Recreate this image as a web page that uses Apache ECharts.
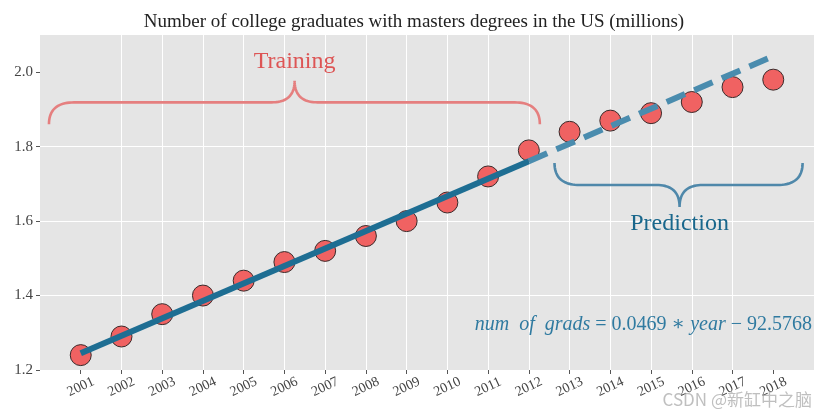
<!DOCTYPE html>
<html>
<head>
<meta charset="utf-8">
<script src="https://cdn.jsdelivr.net/npm/echarts@6/dist/echarts.min.js"></script>
<style>
html,body{margin:0;padding:0;background:#fff;}
#chart{width:828px;height:414px;}
</style>
</head>
<body>
<div id="chart"></div>
<script>
// ---- data ----
const years = [2001,2002,2003,2004,2005,2006,2007,2008,2009,2010,2011,2012,2013,2014,2015,2016,2017,2018];
const grads = [1.24,1.29,1.35,1.40,1.44,1.49,1.52,1.56,1.60,1.65,1.72,1.79,1.84,1.87,1.89,1.92,1.96,1.98];
const fitTrainX = [2001, 2012];
const fitTrainY = [1.245, 1.761];
const fitPredX = [2012, 2018];
const fitPredY = [1.761, 2.043];
// braces: [xStart, xEnd, xCenter, yEnds, yBar, yTip]
const trainingBrace = [2000.22, 2012.27, 2006.25, 1.860, 1.919, 1.977];
const predictionBrace = [2012.63, 2018.72, 2015.70, 1.756, 1.697, 1.638];
const yTicks = [1.2, 1.4, 1.6, 1.8, 2.0];
const titleText = 'Number of college graduates with masters degrees in the US (millions)';

// annotation anchor positions (data coords)
const trainingLabelPos = [2006.25, 2.027];
const predictionLabelPos = [2015.70, 1.594];
const equationPos = [2018.95, 1.321];

const SERIF = '"Liberation Serif","DejaVu Serif",serif';

const chart = echarts.init(document.getElementById('chart'), null, {renderer:'canvas'});

function qbez(p0, p1, p2, n, out) {
  for (let i = 1; i <= n; i++) {
    const t = i / n, u = 1 - t;
    out.push([u*u*p0[0] + 2*u*t*p1[0] + t*t*p2[0], u*u*p0[1] + 2*u*t*p1[1] + t*t*p2[1]]);
  }
}

function braceRender(color) {
  return function (params, api) {
    const x0 = api.value(0), x1 = api.value(1), xc = api.value(2);
    const yE = api.value(3), yM = api.value(4), yT = api.value(5);
    const a = api.coord([x0, yE]), b = api.coord([x1, yE]);
    const m = api.coord([xc, yM]), t = api.coord([xc, yT]);
    const yEnd = a[1], yMid = m[1], yTip = t[1];
    const r = 25, rc = 23;
    const pts = [[a[0], yEnd]];
    qbez([a[0], yEnd], [a[0], yMid], [a[0] + r, yMid], 20, pts);
    pts.push([m[0] - rc, yMid]);
    qbez([m[0] - rc, yMid], [m[0], yMid], [m[0], yTip], 20, pts);
    qbez([m[0], yTip], [m[0], yMid], [m[0] + rc, yMid], 20, pts);
    pts.push([b[0] - r, yMid]);
    qbez([b[0] - r, yMid], [b[0], yMid], [b[0], yEnd], 20, pts);
    return {
      type: 'polyline',
      shape: {points: pts},
      style: {stroke: color, lineWidth: 2.6, fill: null}
    };
  };
}

const option = {
  animation: false,
  backgroundColor: '#ffffff',
  title: {
    text: titleText,
    left: 'center',
    top: 8,
    textStyle: {fontFamily: SERIF, fontSize: 19, fontWeight: 'normal', color: '#222'}
  },
  grid: {left: 40, right: 14, top: 35, bottom: 44, show: true, backgroundColor: '#e5e5e5', borderWidth: 0},
  xAxis: {
    type: 'value',
    min: 2000, max: 2019, interval: 1,
    axisLine: {show: false},
    axisTick: {show: true, customValues: years, length: 4, lineStyle: {color: '#555', width: 1}},
    axisLabel: {
      customValues: years,
      rotate: 25, margin: 17, align: 'center', verticalAlign: 'middle',
      fontFamily: SERIF, fontSize: 14, color: '#444',
      formatter: v => String(v)
    },
    splitLine: {show: true, showMinLine: false, showMaxLine: false, lineStyle: {color: '#ffffff', width: 1}}
  },
  yAxis: {
    type: 'value',
    min: 1.2, max: 2.1, interval: 0.2,
    axisLine: {show: false},
    axisTick: {show: true, customValues: yTicks, length: 4, lineStyle: {color: '#555', width: 1}},
    axisLabel: {customValues: yTicks, margin: 7, fontFamily: SERIF, fontSize: 15, color: '#444',
      formatter: v => Number(v).toFixed(1)},
    splitLine: {show: true, showMinLine: false, showMaxLine: false, lineStyle: {color: '#ffffff', width: 1}}
  },
  series: [
    {
      type: 'custom', name: 'trainingBrace', z: 1,
      renderItem: braceRender('#e57f7f'),
      data: [trainingBrace], silent: true, clip: false
    },
    {
      type: 'custom', name: 'predictionBrace', z: 1,
      renderItem: braceRender('#4f88aa'),
      data: [predictionBrace], silent: true, clip: false
    },
    {
      type: 'scatter', name: 'actual', z: 2,
      symbol: 'circle', symbolSize: 21,
      itemStyle: {color: '#f06262', borderColor: '#3a2a2a', borderWidth: 1, opacity: 1},
      data: years.map((y, i) => [y, grads[i]])
    },
    {
      type: 'line', name: 'fitTrain', z: 3,
      showSymbol: false,
      lineStyle: {color: '#1e6e93', width: 6, cap: 'butt'},
      data: fitTrainX.map((x, i) => [x, fitTrainY[i]])
    },
    {
      type: 'line', name: 'fitPred', z: 3,
      showSymbol: false,
      lineStyle: {color: '#4a8cae', width: 6, type: [20, 10], cap: 'butt'},
      data: fitPredX.map((x, i) => [x, fitPredY[i]])
    },
    {
      type: 'scatter', name: 'labels', z: 4, symbolSize: 0, silent: true,
      itemStyle: {opacity: 1},
      data: [
        {value: trainingLabelPos, label: {show: true, position: 'inside', formatter: 'Training',
          fontFamily: SERIF, fontSize: 24, color: '#dd5555', opacity: 1}},
        {value: predictionLabelPos, label: {show: true, position: 'inside', formatter: 'Prediction',
          fontFamily: SERIF, fontSize: 24, color: '#19678c', opacity: 1}},
        {value: equationPos, label: {show: true, position: 'left', distance: 0, opacity: 1,
          formatter: '{i|num  of  grads}{n| = 0.0469 ∗ }{i|year}{n| − 92.5768}',
          rich: {
            i: {fontFamily: SERIF, fontStyle: 'italic', fontSize: 20, color: '#2f7aa0'},
            n: {fontFamily: SERIF, fontSize: 20, color: '#2f7aa0'}
          }}}
      ]
    }
  ],
  graphic: [
    {type: 'text', right: 16, bottom: 6, z: 100,
      style: {text: 'CSDN @新缸中之脑', fontFamily: '"Noto Sans CJK SC", sans-serif', fontSize: 17,
        fill: 'rgba(170,170,170,0.75)'}}
  ]
};
chart.setOption(option);
</script>
</body>
</html>
